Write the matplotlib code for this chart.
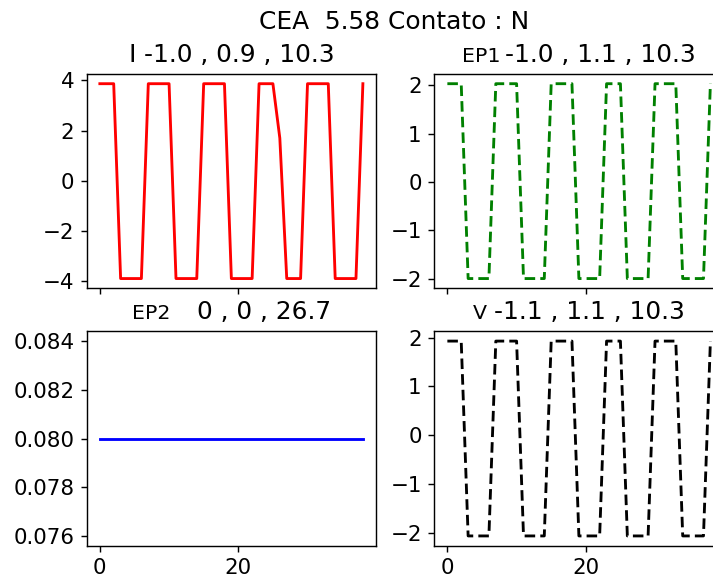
import matplotlib
matplotlib.use("Agg")
import matplotlib.pyplot as plt
from matplotlib.ticker import MultipleLocator
from matplotlib.offsetbox import TextArea, HPacker, AnnotationBbox

# sample index 0..38
t = list(range(39))

# current I
i_vals = [3.87, 3.87, 3.87, -3.9, -3.9, -3.9, -3.9,
          3.87, 3.87, 3.87, 3.87, -3.9, -3.9, -3.9, -3.9,
          3.87, 3.87, 3.87, 3.87, -3.9, -3.9, -3.9, -3.9,
          3.87, 3.87, 3.87, 1.7, -3.9, -3.9, -3.9,
          3.87, 3.87, 3.87, 3.87, -3.9, -3.9, -3.9, -3.9, 3.87]

# EP1
ep1_vals = [2.03, 2.03, 2.03, -2.0, -2.0, -2.0, -2.0,
            2.03, 2.03, 2.03, 2.03, -2.0, -2.0, -2.0, -2.0,
            2.03, 2.03, 2.03, 2.03, -2.0, -2.0, -2.0, -2.0,
            2.03, 2.03, 2.03, -2.0, -2.0, -2.0, -2.0,
            2.03, 2.03, 2.03, 2.03, -2.0, -2.0, -2.0, -2.0, 2.03]

# EP2 (flat)
ep2_vals = [0.08] * 39

# V
v_vals = [1.93, 1.93, 1.93, -2.07, -2.07, -2.07, -2.07,
          1.93, 1.93, 1.93, 1.93, -2.07, -2.07, -2.07, -2.07,
          1.93, 1.93, 1.93, 1.93, -2.07, -2.07, -2.07, -2.07,
          1.93, 1.93, 1.93, -2.07, -2.07, -2.07, -2.07,
          1.93, 1.93, 1.93, 1.93, -2.07, -2.07, -2.07, -2.07, 1.93]

x_ticks = [0, 20]
y_steps = [2, 1, 0.002, 1]

# (name, numbers, name size, gap)
titles = [("I", "-1.0 , 0.9 , 10.3", 14, 4.5),
          ("EP1", "-1.0 , 1.1 , 10.3", 11.5, 3),
          ("EP2", "0 , 0 , 26.7", 11.5, 15),
          ("V", "-1.1 , 1.1 , 10.3", 11.5, 4.5)]
suptitle = "CEA  5.58 Contato : N"

DPI = 128
fig = plt.figure(figsize=(713 / DPI, 581 / DPI), dpi=DPI)

w, h = 0.4058, 0.3689
left_x, right_x = 0.1216, 0.609
top_y, bot_y = 0.5038, 0.0608

ax1 = fig.add_axes([left_x, top_y, w, h])
ax2 = fig.add_axes([right_x, top_y, w, h], sharex=ax1)
ax3 = fig.add_axes([left_x, bot_y, w, h], sharex=ax1)
ax4 = fig.add_axes([right_x, bot_y, w, h], sharex=ax1)
axes = (ax1, ax2, ax3, ax4)

ax1.plot(t, i_vals, "r", lw=1.6)
ax2.plot(t, ep1_vals, "g", ls=(0, (3.7, 1.8)), lw=1.6)
ax3.plot(t, ep2_vals, "b", lw=1.6)
ax4.plot(t, v_vals, "k", ls=(0, (3.7, 1.8)), lw=1.6)

ax1.set_xticks(x_ticks)
for ax, step in zip(axes, y_steps):
    ax.yaxis.set_major_locator(MultipleLocator(step))
    ax.tick_params(labelsize=12)
for ax in (ax1, ax2):
    ax.tick_params(labelbottom=False)


def set_title(ax, name, nums, name_size, gap):
    box = HPacker(children=[TextArea(name, textprops=dict(size=name_size)),
                            TextArea(nums, textprops=dict(size=14))],
                  align="baseline", pad=0, sep=gap)
    ab = AnnotationBbox(box, (0.5, 1.0), xycoords="axes fraction",
                        xybox=(0, 4), boxcoords="offset points",
                        box_alignment=(0.5, 0), frameon=False, pad=0)
    ax.add_artist(ab)


for ax, (name, nums, ns, gap) in zip(axes, titles):
    set_title(ax, name, nums, ns, gap)

fig.suptitle(suptitle, x=0.5523, y=0.982, fontsize=14)

fig.savefig("out.png", dpi=DPI)
